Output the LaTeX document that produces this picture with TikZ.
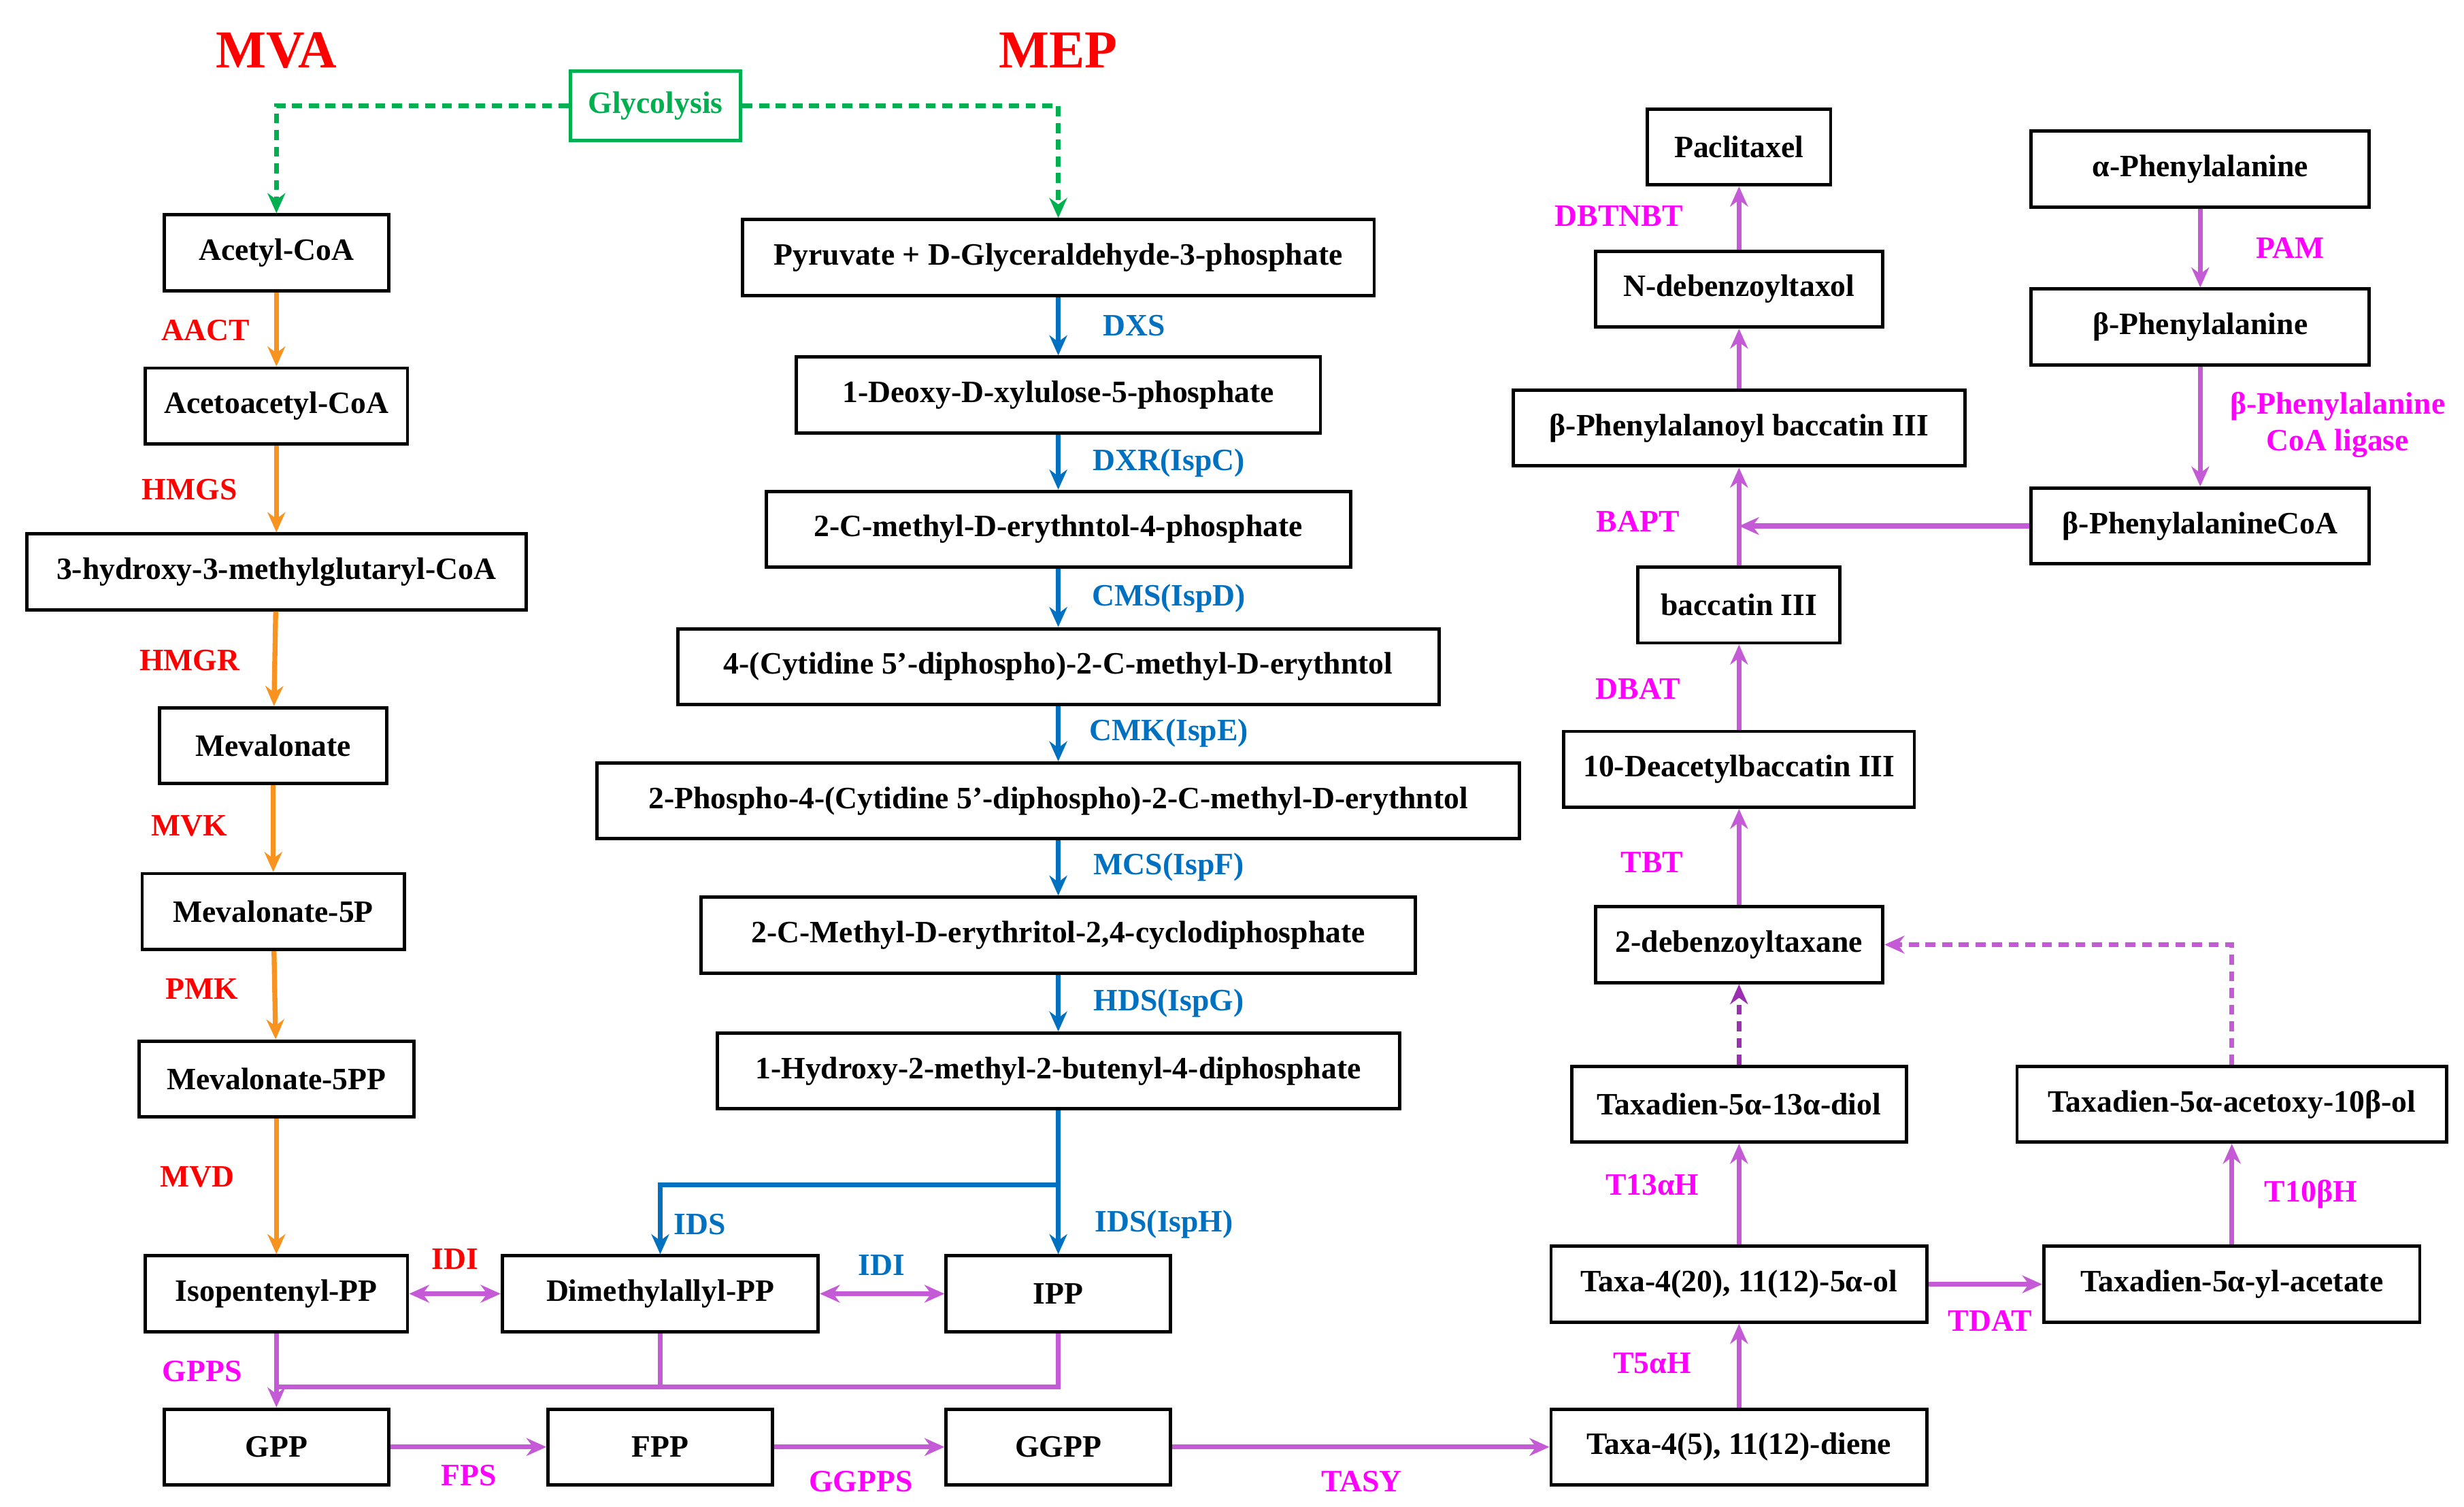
\documentclass[tikz,border=0pt]{standalone}
\usepackage{fontspec}
\setmainfont{Liberation Serif}
\usetikzlibrary{arrows.meta}
\definecolor{myred}{HTML}{FF0000}
\definecolor{myor}{HTML}{F7931E}
\definecolor{myblue}{HTML}{0070C0}
\definecolor{mymag}{HTML}{FF00FF}
\definecolor{mypur}{HTML}{C55AD6}
\definecolor{mydpur}{HTML}{9A30B0}
\definecolor{mygreen}{HTML}{00B050}
\begin{document}
\begin{tikzpicture}[x=0.05cm,y=-0.05cm,
 font=\fontsize{28}{33}\selectfont\bfseries,
 bx/.style={draw=black,line width=3pt,minimum height=2.4cm,inner sep=0pt,fill=white},
 lr/.style={text=myred},lb/.style={text=myblue},lm/.style={text=mymag},
 tip/.style={-{Stealth[length=18pt,width=16pt]}},
 dsh/.style={dash pattern=on 9pt off 6pt},
 ao/.style={draw=myor,line width=4.5pt,tip},
 ab/.style={draw=myblue,line width=4.5pt,tip},
 ap/.style={draw=mypur,line width=4.5pt,tip},
 tt/.style={text=myred,font=\fontsize{48}{52}\selectfont\bfseries}]
\useasboundingbox (0,0) rectangle (1560,954);
\node[tt] (mva) at (175,32) {MVA};
\node[tt] (mep) at (670,32) {MEP};
\node[draw=mygreen,line width=3pt,text=mygreen,minimum width=5.4cm,minimum height=2.2cm] (gly) at (415,67) {Glycolysis};
% MVA
\node[bx,minimum width=7.1cm] (acc) at (175,160) {Acetyl-CoA};
\node[bx,minimum width=8.3cm] (aac) at (175,257) {Acetoacetyl-CoA};
\node[bx,minimum width=15.8cm] (hmg) at (175,362) {3-hydroxy-3-methylglutaryl-CoA};
\node[bx,minimum width=7.2cm] (mev) at (173,472) {Mevalonate};
\node[bx,minimum width=8.3cm] (m5p) at (173,577) {Mevalonate-5P};
\node[bx,minimum width=8.7cm] (m5pp) at (175,683) {Mevalonate-5PP};
\node[bx,minimum width=8.3cm] (ipp1) at (175,819) {Isopentenyl-PP};
\draw[ao] (acc) -- (aac);
\draw[ao] (aac) -- (hmg);
\draw[ao] (hmg) -- (mev);
\draw[ao] (mev) -- (m5p);
\draw[ao] (m5p) -- (m5pp);
\draw[ao] (m5pp) -- (ipp1);
\node[lr] (l1) at (130,209) {AACT};
\node[lr] (l2) at (120,310) {HMGS};
\node[lr] (l3) at (120,418) {HMGR};
\node[lr] (l4) at (120,523) {MVK};
\node[lr] (l5) at (128,626) {PMK};
\node[lr] (l6) at (125,745) {MVD};
% MEP
\node[bx,minimum width=20cm] (pyr) at (670,163) {Pyruvate + D-Glyceraldehyde-3-phosphate};
\node[bx,minimum width=16.6cm] (dxp) at (670,250) {1-Deoxy-D-xylulose-5-phosphate};
\node[bx,minimum width=18.5cm] (mep2) at (670,335) {2-C-methyl-D-erythntol-4-phosphate};
\node[bx,minimum width=24.1cm] (cdp) at (670,422) {4-(Cytidine 5'-diphospho)-2-C-methyl-D-erythntol};
\node[bx,minimum width=29.2cm] (cdpp) at (670,507) {2-Phospho-4-(Cytidine 5'-diphospho)-2-C-methyl-D-erythntol};
\node[bx,minimum width=22.6cm] (mecp) at (670,592) {2-C-Methyl-D-erythritol-2,4-cyclodiphosphate};
\node[bx,minimum width=21.6cm] (hmb) at (670,678) {1-Hydroxy-2-methyl-2-butenyl-4-diphosphate};
\draw[ab] (pyr) -- (dxp);
\draw[ab] (dxp) -- (mep2);
\draw[ab] (mep2) -- (cdp);
\draw[ab] (cdp) -- (cdpp);
\draw[ab] (cdpp) -- (mecp);
\draw[ab] (mecp) -- (hmb);
\node[lb] (b1) at (718,206) {DXS};
\node[lb] (b2) at (740,293) {DXR(IspC)};
\node[lb] (b3) at (740,379) {CMS(IspD)};
\node[lb] (b4) at (740,464) {CMK(IspE)};
\node[lb] (b5) at (740,549) {MCS(IspF)};
\node[lb] (b6) at (740,635) {HDS(IspG)};
\draw[draw=mygreen,line width=4.5pt,dsh,tip] (gly.west) -| (acc.north);
\draw[draw=mygreen,line width=4.5pt,dsh,tip] (gly.east) -| (pyr.north);
% row
\node[bx,minimum width=10cm] (dma) at (418,819) {Dimethylallyl-PP};
\node[bx,minimum width=7.1cm] (ipp) at (670,819) {IPP};
\coordinate (br) at (670,750);
\draw[ab] (hmb) -- (ipp);
\draw[ab] (br) -| (dma.north);
\node[lb] (b7) at (443,775) {IDS};
\node[lb] (b8) at (737,775) {IDS(IspH)};
\draw[draw=mypur,line width=4.5pt,{Stealth[length=18pt,width=16pt]}-{Stealth[length=18pt,width=16pt]}] (ipp1) -- (dma);
\draw[draw=mypur,line width=4.5pt,{Stealth[length=18pt,width=16pt]}-{Stealth[length=18pt,width=16pt]}] (dma) -- (ipp);
\node[lr] (i1) at (288,797) {IDI};
\node[lb] (i2) at (558,801) {IDI};
% bottom
\node[bx,minimum width=7.1cm] (gpp) at (175,916) {GPP};
\node[bx,minimum width=7.1cm] (fpp) at (418,916) {FPP};
\node[bx,minimum width=7.1cm] (ggpp) at (670,916) {GGPP};
\node[bx,minimum width=11.9cm] (txd) at (1101,916) {Taxa-4(5), 11(12)-diene};
\coordinate (j) at (175,878);
\draw[draw=mypur,line width=4.5pt] (dma.south) |- (j) (ipp.south) |- (j);
\draw[ap] (ipp1) -- (gpp);
\draw[ap] (gpp) -- (fpp);
\draw[ap] (fpp) -- (ggpp);
\draw[ap] (ggpp) -- (txd);
\node[lm] (g1) at (128,868) {GPPS};
\node[lm] (g2) at (297,934) {FPS};
\node[lm] (g3) at (545,938) {GGPPS};
\node[lm] (g4) at (862,938) {TASY};
% right
\node[bx,minimum width=11.9cm] (tx5) at (1101,813) {Taxa-4(20), 11(12)-5α-ol};
\node[bx,minimum width=10.6cm] (diol) at (1101,699) {Taxadien-5α-13α-diol};
\node[bx,minimum width=9.1cm] (dbt) at (1101,598) {2-debenzoyltaxane};
\node[bx,minimum width=11.1cm] (dab) at (1101,487) {10-Deacetylbaccatin III};
\node[bx,minimum width=6.4cm] (bac) at (1101,383) {baccatin III};
\node[bx,minimum width=14.3cm] (pbac) at (1101,271) {β-Phenylalanoyl baccatin III};
\node[bx,minimum width=9.1cm] (ndt) at (1101,183) {N-debenzoyltaxol};
\node[bx,minimum width=5.8cm] (pac) at (1101,93) {Paclitaxel};
\node[bx,minimum width=11.9cm] (tya) at (1413,813) {Taxadien-5α-yl-acetate};
\node[bx,minimum width=13.6cm] (tao) at (1413,699) {Taxadien-5α-acetoxy-10β-ol};
\node[bx,minimum width=10.7cm] (aph) at (1393,107) {α-Phenylalanine};
\node[bx,minimum width=10.7cm] (bph) at (1393,207) {β-Phenylalanine};
\node[bx,minimum width=10.7cm] (bcoa) at (1393,333) {β-PhenylalanineCoA};
\draw[ap] (txd) -- (tx5);
\draw[ap] (tx5) -- (diol);
\draw[draw=mydpur,line width=4.5pt,dsh,tip] (diol) -- (dbt);
\draw[ap] (dbt) -- (dab);
\draw[ap] (dab) -- (bac);
\draw[ap] (bac) -- (pbac);
\draw[ap] (ndt) -- (pac);
\draw[ap] (pbac) -- (ndt);
\draw[ap] (tx5) -- (tya);
\draw[ap] (tya) -- (tao);
\draw[draw=mypur,line width=4.5pt,dsh,tip] (tao.north) |- (dbt.east);
\draw[ap] (aph) -- (bph);
\draw[ap] (bph) -- (bcoa);
\coordinate (bj) at (1101,333);
\draw[ap] (bcoa.west) -- (bj);
\node[lm] (r1) at (1046,863) {T5αH};
\node[lm] (r2) at (1046,750) {T13αH};
\node[lm] (r3) at (1046,546) {TBT};
\node[lm] (r4) at (1037,436) {DBAT};
\node[lm] (r5) at (1037,330) {BAPT};
\node[lm] (r6) at (1025,137) {DBTNBT};
\node[lm] (r7) at (1463,756) {T10βH};
\node[lm] (r8) at (1260,836) {TDAT};
\node[lm] (r9) at (1450,157) {PAM};
\node[lm,align=center] (r10) at (1480,269) {β-Phenylalanine\\CoA ligase};
\end{tikzpicture}
\end{document}
